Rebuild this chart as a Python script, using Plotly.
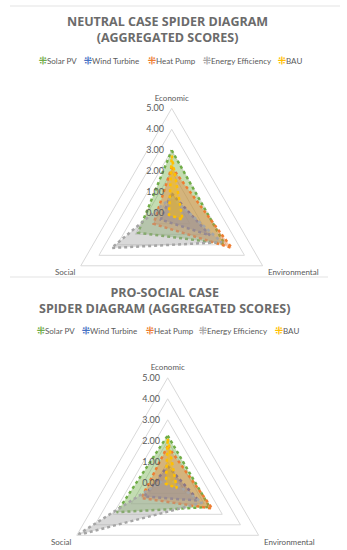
import plotly.graph_objects as go

# ---------------- data ----------------
categories = ["Economic", "Environmental", "Social"]
series_names = ["Solar PV", "Wind Turbine", "Heat Pump", "Energy Efficiency", "BAU"]
series_colors = ["#70AD47", "#4472C4", "#ED7D31", "#A5A5A5", "#FFC000"]

# Neutral case (Economic, Environmental, Social)
neutral_solar_pv = [3.00, 2.90, 1.85]
neutral_wind_turbine = [0.95, 2.10, 0.60]
neutral_heat_pump = [2.20, 3.30, 1.00]
neutral_energy_efficiency = [0.77, 2.75, 3.30]
neutral_bau = [2.75, 0.60, 0.15]

# Pro-social case (Economic, Environmental, Social)
prosocial_solar_pv = [2.25, 2.30, 2.80]
prosocial_wind_turbine = [0.80, 1.70, 1.30]
prosocial_heat_pump = [1.75, 2.45, 1.45]
prosocial_energy_efficiency = [0.25, 1.90, 5.00]
prosocial_bau = [2.10, 0.50, 0.10]

radial_ticks = [0, 1, 2, 3, 4, 5]

neutral = [neutral_solar_pv, neutral_wind_turbine, neutral_heat_pump,
           neutral_energy_efficiency, neutral_bau]
prosocial = [prosocial_solar_pv, prosocial_wind_turbine, prosocial_heat_pump,
             prosocial_energy_efficiency, prosocial_bau]

# ---------------- layout helpers ----------------
W, H = 347, 600
TXT = "#595959"
GRID = "#d9d9d9"
CLEAR = "rgba(0,0,0,0)"


def rgba(hexc, a):
    hexc = hexc.lstrip("#")
    r, g, b = int(hexc[0:2], 16), int(hexc[2:4], 16), int(hexc[4:6], 16)
    return f"rgba({r},{g},{b},{a})"


def dom(cx, cy, R):
    return dict(x=[(cx - R) / W, (cx + R) / W],
                y=[1 - (cy + R) / H, 1 - (cy - R) / H])


def polar_layout(cx, cy, R):
    return dict(
        domain=dom(cx, cy, R),
        gridshape="linear",
        bgcolor=CLEAR,
        radialaxis=dict(range=[0, 5], tickvals=radial_ticks, tickformat=".2f",
                        angle=90, tickangle=90, side="counterclockwise",
                        showline=False, ticks="outside", ticklen=4,
                        tickcolor=CLEAR, gridcolor=GRID, gridwidth=1,
                        tickfont=dict(family="Lato", size=9, color=TXT)),
        angularaxis=dict(rotation=90, direction="clockwise", showgrid=False,
                         showline=True, linecolor=GRID, linewidth=1,
                         ticks="outside", ticklen=4, tickcolor=CLEAR,
                         tickfont=dict(family="Lato", size=8, color=TXT)),
    )


fig = go.Figure()

for subplot, data in (("polar", neutral), ("polar2", prosocial)):
    for name, color, vals in zip(series_names, series_colors, data):
        fig.add_trace(go.Scatterpolar(
            r=vals + [vals[0]],
            theta=categories + [categories[0]],
            mode="lines",
            name=name,
            line=dict(color=color, width=2.5, dash="dot"),
            fill="toself",
            fillcolor=rgba(color, 0.42),
            subplot=subplot,
            showlegend=False,
        ))

annotations = []


def add_text(text, x, y, size, bold=False, xanchor="center", family="Open Sans"):
    annotations.append(dict(
        text=text, x=x / W, y=1 - y / H, xref="paper", yref="paper",
        xanchor=xanchor, yanchor="middle", showarrow=False,
        font=dict(family=family, size=size, color="#6b6b6b" if bold else TXT,
                  weight="bold" if bold else "normal"),
    ))


# titles (two lines each)
add_text("NEUTRAL CASE SPIDER DIAGRAM<br>(AGGREGATED SCORES)", 167, 29.5, 12.5, bold=True)
add_text("PRO-SOCIAL CASE<br>SPIDER DIAGRAM (AGGREGATED SCORES)", 164, 300, 12.5, bold=True)

# legends
legend_x_top = [37, 82, 146, 201, 276]
legend_x_bottom = [35, 80, 144, 197, 273]
for xs, ly in ((legend_x_top, 60), (legend_x_bottom, 330)):
    for name, color, lx in zip(series_names, series_colors, xs):
        add_text(f"<span style='color:{color};font-size:10px;font-weight:bold'>⁜</span>{name}",
                 lx, ly, 8, xanchor="left", family="Lato")

# separator lines
shapes = [
    dict(type="line", xref="paper", yref="paper", x0=10 / W, x1=340 / W,
         y0=1 - 6 / H, y1=1 - 6 / H, line=dict(color="#e3e3e3", width=1)),
    dict(type="line", xref="paper", yref="paper", x0=10 / W, x1=328 / W,
         y0=1 - 277 / H, y1=1 - 277 / H, line=dict(color="#e3e3e3", width=1)),
]

fig.update_layout(
    width=W, height=H, autosize=False,
    margin=dict(l=0, r=0, t=0, b=0),
    paper_bgcolor="white", plot_bgcolor="white",
    polar=polar_layout(171.7, 213.3, 105),
    polar2=polar_layout(167.7, 482.8, 105),
    annotations=annotations,
    shapes=shapes,
    showlegend=False,
)

fig.write_html(
    "out.html",
    config={"displayModeBar": False},
    post_script="document.body.style.margin='0';document.body.style.overflow='hidden';",
)
